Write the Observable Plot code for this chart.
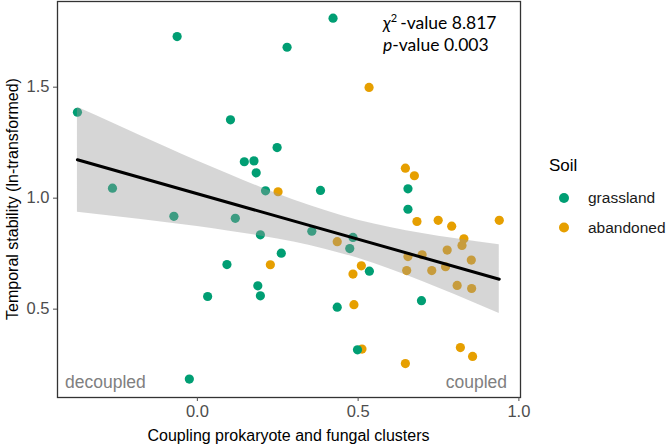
<!DOCTYPE html>
<html>
<head>
<meta charset="utf-8">
<script src="https://cdn.jsdelivr.net/npm/d3@7"></script>
<script src="https://cdn.jsdelivr.net/npm/@observablehq/plot@0.6"></script>
<style>
  html, body { margin: 0; padding: 0; background: #fff; }
  #chart { width: 666px; height: 444px; }
</style>
</head>
<body>
<div id="chart"></div>
<script>
// ---- data ----
const soilLevels = ["grassland", "abandoned"];
const soilColors = ["#009E73", "#E69F00"];

const grassX = [-0.373,-0.063,0.279,0.422,0.103,0.248,0.146,0.176,0.183,0.212,0.383,-0.264,-0.073,0.118,0.196,0.356,0.261,0.092,0.188,0.196,0.032,0.435,-0.025,0.655,0.655,0.484,0.474,0.535,0.697,0.498];
const grassY = [1.387,1.728,1.680,1.811,1.353,1.228,1.164,1.168,1.114,1.033,1.035,1.045,0.918,0.909,0.835,0.851,0.752,0.701,0.605,0.560,0.557,0.509,0.185,1.042,0.950,0.823,0.773,0.671,0.538,0.317];

const abandX = [0.251,0.435,0.227,0.534,0.647,0.675,0.683,0.749,0.791,0.939,0.829,0.823,0.777,0.699,0.655,0.852,0.772,0.729,0.651,0.510,0.484,0.808,0.853,0.487,0.512,0.818,0.856,0.647];
const abandY = [1.029,0.804,0.700,1.499,1.135,1.101,0.895,0.900,0.874,0.900,0.817,0.787,0.766,0.745,0.737,0.721,0.691,0.674,0.674,0.695,0.658,0.607,0.593,0.520,0.320,0.327,0.287,0.255];

// fitted line and confidence band
const fitX  = [-0.373, 0.939];
const fitY  = [1.173, 0.635];
const bandX  = [-0.373,-0.25,-0.1,0.0,0.1,0.2,0.3,0.4,0.5,0.6,0.7,0.8,0.939];
const bandLo = [0.936,0.916,0.890,0.872,0.851,0.829,0.802,0.769,0.729,0.680,0.625,0.566,0.480];
const bandHi = [1.410,1.330,1.232,1.168,1.107,1.047,0.992,0.943,0.901,0.868,0.841,0.818,0.790];

const xTicks = [0.0, 0.5, 1.0];
const yTicks = [0.5, 1.0, 1.5];

const xTitle = "Coupling prokaryote and fungal clusters";
const yTitle = "Temporal stability (ln-transformed)";
const chiLabel = "-value 8.817";
const pLabel = "-value 0.003";
const leftNote = "decoupled";
const rightNote = "coupled";
const legendTitle = "Soil";

// ---- tables ----
const points = [
  ...abandX.map((x, i) => ({x, y: abandY[i], soil: "abandoned"})),
  ...grassX.map((x, i) => ({x, y: grassY[i], soil: "grassland"}))
];
const fit = fitX.map((x, i) => ({x, y: fitY[i]}));
const band = bandX.map((x, i) => ({x, lo: bandLo[i], hi: bandHi[i]}));

const FONT = "'Liberation Sans', Arial, sans-serif";

function decor(index, scales, values, dim) {
  const g = d3.create("svg:g").attr("text-anchor", "start");
  const {width, height, marginLeft, marginRight, marginTop, marginBottom} = dim;
  const x0 = marginLeft, x1 = width - marginRight, y0 = marginTop, y1 = height - marginBottom;
  // axis titles
  g.append("text").attr("x", (x0 + x1) / 2).attr("y", 441)
    .attr("text-anchor", "middle").attr("font-family", FONT).attr("font-size", 16)
    .attr("fill", "#000").text(xTitle);
  g.append("text").attr("transform", `translate(18,${(y0 + y1) / 2}) rotate(-90)`)
    .attr("text-anchor", "middle").attr("font-family", FONT).attr("font-size", 16)
    .attr("fill", "#000").text(yTitle);
  // annotation
  const ann = g.append("g").attr("font-family", "Lato, 'Open Sans', sans-serif").attr("font-size", 17.5)
    .attr("fill", "#000").attr("text-anchor", "start");
  const t1 = ann.append("text").attr("x", 383).attr("y", 29);
  t1.append("tspan").attr("font-style", "italic").text("χ");
  t1.append("tspan").attr("font-size", 11).attr("dy", -7).text("2");
  t1.append("tspan").attr("dy", 7).attr("dx", 3).text(chiLabel);
  const t2 = ann.append("text").attr("x", 383).attr("y", 51);
  t2.append("tspan").attr("font-style", "italic").text("p");
  t2.append("tspan").text(pLabel);
  // corner notes
  g.append("text").attr("x", x0 + 8).attr("y", y1 - 9).attr("font-family", FONT).attr("text-anchor", "start")
    .attr("font-size", 17.5).attr("fill", "#808080").text(leftNote);
  g.append("text").attr("x", x1 - 13).attr("y", y1 - 9).attr("text-anchor", "end").attr("font-family", FONT)
    .attr("font-size", 17.5).attr("fill", "#808080").text(rightNote);
  // legend
  const lg = g.append("g").attr("font-family", FONT).attr("text-anchor", "start");
  lg.append("text").attr("x", 549).attr("y", 171).attr("font-size", 17).attr("fill", "#000").text(legendTitle);
  soilLevels.forEach((s, i) => {
    const cy = 198 + i * 29.5;
    lg.append("circle").attr("cx", 564).attr("cy", cy).attr("r", 5).attr("fill", soilColors[i]);
    lg.append("text").attr("x", 588).attr("y", cy + 5).attr("font-size", 15.5).attr("fill", "#1a1a1a").text(s);
  });
  return g.node();
}

const chart = Plot.plot({
  width: 666,
  height: 444,
  marginLeft: 57,
  marginRight: 146,
  marginTop: 1,
  marginBottom: 47,
  style: {fontFamily: FONT, background: "#fff"},
  x: {domain: [-0.435, 1.005]},
  y: {domain: [0.102, 1.886]},
  color: {domain: soilLevels, range: soilColors},
  marks: [
    Plot.dot(points, {x: "x", y: "y", r: 4.6, fill: "soil", stroke: null}),
    Plot.areaY(band, {x: "x", y1: "lo", y2: "hi", fill: "#999999", fillOpacity: 0.4, curve: "monotone-x"}),
    Plot.line(fit, {x: "x", y: "y", stroke: "#000", strokeWidth: 3}),
    Plot.frame({stroke: "#333333", strokeWidth: 1.3}),
    Plot.axisX({ticks: xTicks, tickFormat: d3.format(".1f"), tickSize: 4, tickPadding: 4, fontSize: 16.5, color: "#4d4d4d", label: null}),
    Plot.axisY({ticks: yTicks, tickFormat: d3.format(".1f"), tickSize: 4, tickPadding: 4, fontSize: 16.5, color: "#4d4d4d", label: null}),
    decor
  ]
});
document.getElementById("chart").appendChild(chart);
</script>
</body>
</html>
